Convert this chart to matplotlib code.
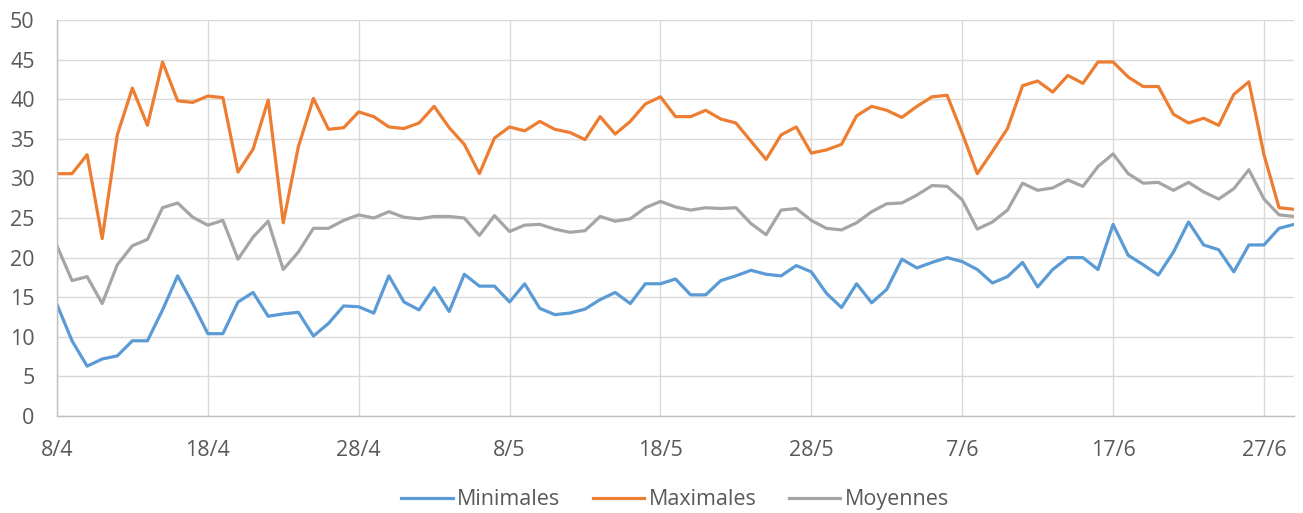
import numpy as np
import matplotlib
matplotlib.use("Agg")
import matplotlib.pyplot as plt

# daily temperatures from 8/4 to 29/6
minimales = [14.1, 9.5, 6.3, 7.2, 7.6, 9.5, 9.5, 13.4, 17.7, 14.2,
             10.4, 10.4, 14.4, 15.6, 12.6, 12.9, 13.1, 10.1, 11.7, 13.9,
             13.8, 13.0, 17.7, 14.4, 13.4, 16.2, 13.2, 17.9, 16.4, 16.4,
             14.4, 16.7, 13.6, 12.8, 13.0, 13.5, 14.7, 15.6, 14.2, 16.7,
             16.7, 17.3, 15.3, 15.3, 17.1, 17.7, 18.4, 17.9, 17.7, 19.0,
             18.2, 15.5, 13.7, 16.7, 14.3, 16.0, 19.8, 18.7, 19.4, 20.0,
             19.5, 18.5, 16.8, 17.6, 19.4, 16.3, 18.5, 20.0, 20.0, 18.5,
             24.2, 20.3, 19.1, 17.8, 20.7, 24.5, 21.6, 21.0, 18.2, 21.6,
             21.6, 23.7, 24.2]
maximales = [30.6, 30.6, 33.0, 22.4, 35.5, 41.4, 36.7, 44.7, 39.8, 39.6,
             40.4, 40.2, 30.8, 33.7, 39.9, 24.4, 34.0, 40.1, 36.2, 36.4,
             38.4, 37.8, 36.5, 36.3, 37.0, 39.1, 36.4, 34.3, 30.6, 35.1,
             36.5, 36.0, 37.2, 36.2, 35.8, 34.9, 37.8, 35.6, 37.2, 39.4,
             40.3, 37.8, 37.8, 38.6, 37.5, 37.0, 34.7, 32.4, 35.5, 36.5,
             33.2, 33.6, 34.3, 37.9, 39.1, 38.6, 37.7, 39.1, 40.3, 40.5,
             35.7, 30.6, 33.4, 36.3, 41.7, 42.3, 40.9, 43.0, 42.0, 44.7,
             44.7, 42.8, 41.6, 41.6, 38.1, 37.0, 37.6, 36.7, 40.6, 42.2,
             33.0, 26.3, 26.1]
moyennes = [21.5, 17.1, 17.6, 14.2, 19.1, 21.5, 22.3, 26.3, 26.9, 25.1,
            24.1, 24.7, 19.8, 22.6, 24.6, 18.5, 20.7, 23.7, 23.7, 24.7,
            25.4, 25.0, 25.8, 25.1, 24.9, 25.2, 25.2, 25.0, 22.8, 25.3,
            23.3, 24.1, 24.2, 23.6, 23.2, 23.4, 25.2, 24.6, 24.9, 26.3,
            27.1, 26.4, 26.0, 26.3, 26.2, 26.3, 24.3, 22.9, 26.0, 26.2,
            24.7, 23.7, 23.5, 24.4, 25.8, 26.8, 26.9, 27.9, 29.1, 29.0,
            27.3, 23.6, 24.5, 26.0, 29.4, 28.5, 28.8, 29.8, 29.0, 31.5,
            33.1, 30.6, 29.4, 29.5, 28.5, 29.5, 28.3, 27.4, 28.7, 31.1,
            27.4, 25.4, 25.2]
tick_labels = ["8/4", "18/4", "28/4", "8/5", "18/5", "28/5", "7/6", "17/6", "27/6"]

plt.rcParams["font.family"] = ["Open Sans", "DejaVu Sans"]

x = np.arange(len(minimales))

fig = plt.figure(figsize=(13.03, 5.13), dpi=100)
ax = fig.add_axes([0.0437, 0.189, 0.9495, 0.772])

ax.plot(x, minimales, color="#5B9BD5", lw=2.3, label="Minimales", solid_joinstyle="round")
ax.plot(x, maximales, color="#ED7D31", lw=2.3, label="Maximales", solid_joinstyle="round")
ax.plot(x, moyennes, color="#A5A5A5", lw=2.3, label="Moyennes", solid_joinstyle="round")

ax.set_xlim(0, len(x) - 1)
ax.set_ylim(0, 50)
ax.set_yticks(range(0, 51, 5))
ax.set_xticks(np.arange(0, len(x), 10))
ax.set_xticklabels(tick_labels)

ax.grid(True, color="#D9D9D9", lw=1)
ax.set_axisbelow(True)
for side in ["top", "right"]:
    ax.spines[side].set_visible(False)
for side in ["left", "bottom"]:
    ax.spines[side].set_color("#BFBFBF")
    ax.spines[side].set_linewidth(1)
ax.tick_params(length=0, labelsize=15.5, colors="#595959")
ax.tick_params(axis="x", pad=17)
ax.tick_params(axis="y", pad=16)

fig.legend(loc="center", bbox_to_anchor=(0.518, 0.026), ncol=3, frameon=False,
           fontsize=15.5, handlelength=2.4, columnspacing=1.5, handletextpad=0.2,
           labelcolor="#595959")

fig.savefig("out.png", dpi=100)
